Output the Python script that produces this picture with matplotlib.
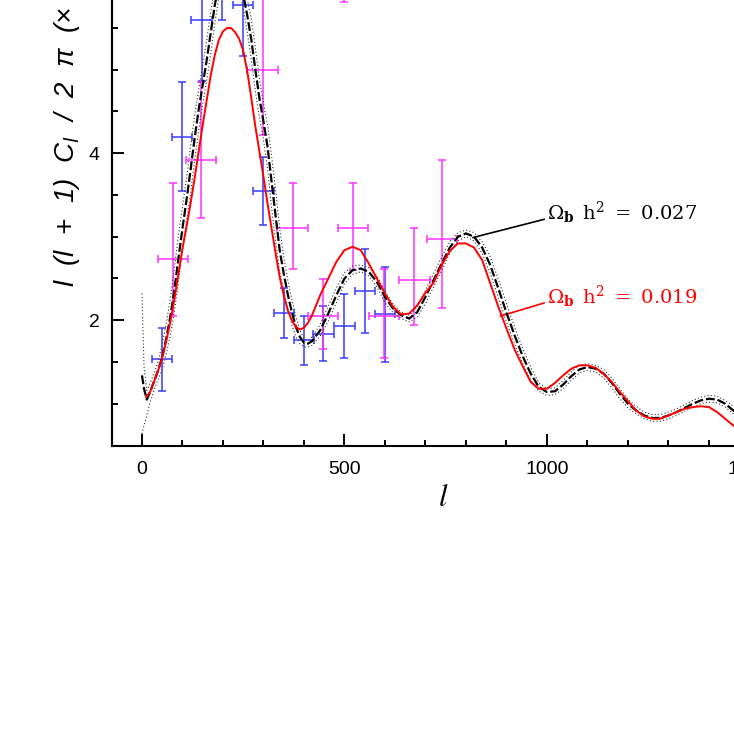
import matplotlib
matplotlib.use("Agg")
import matplotlib.pyplot as plt
from matplotlib.ticker import MultipleLocator

# ---------------- data ----------------
# theory curve, Omega_b h^2 = 0.027 (black dashed)
l_black = [0, 5, 12, 20, 30, 40, 50, 60, 70, 80, 90, 100, 110, 120, 130, 140, 150,
           160, 170, 180, 190, 200, 210, 220, 230, 240, 250, 260, 270, 280, 290, 300,
           310, 320, 330, 340, 350, 360, 370, 380, 390, 400, 410, 420, 440, 460, 480,
           500, 520, 540, 560, 580, 600, 620, 640, 660, 680, 700, 720, 740, 760, 780,
           800, 820, 840, 860, 880, 900, 920, 940, 960, 980, 1000, 1020, 1040, 1060,
           1080, 1100, 1120, 1140, 1160, 1180, 1200, 1220, 1240, 1260, 1280, 1300,
           1320, 1340, 1360, 1380, 1400, 1420, 1440, 1460, 1480, 1500]
cl_black = [1.34, 1.18, 1.05, 1.14, 1.27, 1.40, 1.56, 1.78, 2.04, 2.36, 2.74, 3.10, 3.44,
            3.80, 4.18, 4.52, 4.82, 5.12, 5.45, 5.78, 6.02, 6.18, 6.27, 6.28, 6.20, 6.06,
            5.90, 5.65, 5.36, 5.00, 4.66, 4.38, 4.08, 3.66, 3.25, 2.84, 2.56, 2.31, 2.10,
            1.92, 1.80, 1.73, 1.72, 1.75, 1.88, 2.08, 2.30, 2.50, 2.60, 2.62, 2.58, 2.46,
            2.28, 2.14, 2.06, 2.02, 2.10, 2.28, 2.48, 2.68, 2.87, 3.00, 3.04, 3.00, 2.87,
            2.66, 2.38, 2.09, 1.82, 1.57, 1.36, 1.20, 1.14, 1.15, 1.23, 1.33, 1.41, 1.44,
            1.42, 1.36, 1.25, 1.12, 1.00, 0.92, 0.86, 0.83, 0.83, 0.86, 0.90, 0.95, 1.00,
            1.04, 1.06, 1.05, 1.00, 0.92, 0.84, 0.76]
# dotted band around the black curve
cl_band_hi = [2.32, 1.45, 1.16, 1.24, 1.37, 1.51, 1.71, 1.96, 2.26, 2.62, 3.02, 3.36, 3.70,
              4.08, 4.45, 4.76, 5.05, 5.36, 5.70, 6.00, 6.17, 6.28, 6.32, 6.32, 6.29, 6.18,
              6.06, 5.85, 5.60, 5.26, 4.89, 4.60, 4.34, 3.97, 3.56, 3.10, 2.76, 2.48, 2.25,
              2.04, 1.88, 1.78, 1.76, 1.80, 1.95, 2.17, 2.39, 2.57, 2.65, 2.66, 2.63, 2.53,
              2.35, 2.19, 2.10, 2.06, 2.16, 2.36, 2.56, 2.76, 2.94, 3.05, 3.08, 3.05, 2.94,
              2.76, 2.49, 2.20, 1.92, 1.66, 1.44, 1.25, 1.18, 1.19, 1.28, 1.38, 1.46, 1.48,
              1.46, 1.41, 1.31, 1.18, 1.05, 0.97, 0.90, 0.87, 0.87, 0.90, 0.94, 0.99, 1.04,
              1.08, 1.10, 1.09, 1.04, 0.97, 0.89, 0.81]
cl_band_lo = [0.64, 0.74, 0.86, 1.02, 1.17, 1.29, 1.41, 1.60, 1.82, 2.10, 2.46, 2.84, 3.18,
              3.52, 3.91, 4.28, 4.59, 4.88, 5.20, 5.56, 5.87, 6.08, 6.22, 6.24, 6.11, 5.94,
              5.74, 5.45, 5.12, 4.74, 4.43, 4.16, 3.82, 3.35, 2.94, 2.58, 2.36, 2.14, 1.95,
              1.80, 1.72, 1.68, 1.68, 1.70, 1.81, 1.99, 2.21, 2.44, 2.55, 2.58, 2.53, 2.40,
              2.21, 2.09, 2.02, 1.98, 2.04, 2.20, 2.40, 2.60, 2.80, 2.95, 3.00, 2.95, 2.80,
              2.56, 2.27, 1.98, 1.72, 1.48, 1.28, 1.15, 1.10, 1.11, 1.18, 1.28, 1.37, 1.40,
              1.38, 1.31, 1.19, 1.06, 0.95, 0.88, 0.82, 0.79, 0.79, 0.82, 0.86, 0.91, 0.96,
              1.00, 1.02, 1.01, 0.96, 0.88, 0.80, 0.72]

# theory curve, Omega_b h^2 = 0.019 (red)
l_red = [10, 20, 30, 40, 50, 60, 70, 80, 90, 100, 110, 120, 130, 140, 150, 160, 170, 180,
         190, 200, 210, 220, 230, 240, 250, 260, 270, 280, 290, 300, 310, 320, 330, 340,
         350, 360, 370, 380, 390, 400, 410, 420, 440, 460, 480, 500, 520, 540, 560, 580,
         600, 620, 640, 660, 680, 700, 720, 740, 760, 780, 800, 820, 840, 860, 880, 900,
         920, 940, 960, 980, 1000, 1020, 1040, 1060, 1080, 1100, 1120, 1140, 1160, 1180,
         1200, 1220, 1240, 1260, 1280, 1300, 1320, 1340, 1360, 1380, 1400, 1420, 1440,
         1460, 1480, 1500]
cl_red = [1.08, 1.14, 1.27, 1.40, 1.55, 1.75, 1.98, 2.25, 2.55, 2.86, 3.12, 3.40, 3.70,
          4.02, 4.34, 4.64, 4.94, 5.18, 5.36, 5.46, 5.50, 5.50, 5.45, 5.37, 5.23, 4.98,
          4.66, 4.32, 4.02, 3.72, 3.40, 3.10, 2.80, 2.52, 2.30, 2.12, 2.00, 1.92, 1.89,
          1.91, 1.97, 2.06, 2.30, 2.50, 2.70, 2.84, 2.88, 2.84, 2.68, 2.50, 2.32, 2.16,
          2.07, 2.08, 2.18, 2.33, 2.45, 2.66, 2.83, 2.92, 2.92, 2.87, 2.72, 2.44, 2.16,
          1.90, 1.65, 1.45, 1.26, 1.18, 1.18, 1.25, 1.34, 1.42, 1.46, 1.46, 1.43, 1.36,
          1.26, 1.14, 1.03, 0.92, 0.85, 0.82, 0.82, 0.86, 0.90, 0.94, 0.96, 0.97, 0.96,
          0.90, 0.82, 0.74, 0.67, 0.60]

# data set 1 (blue)
l_blue = [50, 98, 147, 198, 250, 300, 351, 400, 448, 500, 551, 600]
cl_blue = [1.53, 4.20, 5.59, 6.29, 5.78, 3.55, 2.09, 1.76, 1.84, 1.93, 2.35, 2.07]
err_blue = [0.38, 0.65, 0.72, 0.70, 0.61, 0.41, 0.30, 0.29, 0.33, 0.385, 0.50, 0.57]
lbin_blue = [25, 25, 25, 25, 25, 25, 25, 25, 25, 25, 25, 25]

# data set 2 (magenta)
l_mag = [76, 146, 298, 372, 446, 500, 521, 598, 672, 742]
cl_mag = [2.73, 3.92, 5.00, 3.10, 2.05, 6.50, 3.10, 2.05, 2.485, 2.97]
err_mag_lo = [0.68, 0.69, 0.78, 0.49, 0.40, 0.69, 0.50, 0.50, 0.545, 0.82]
err_mag_hi = [0.91, 0.93, 1.00, 0.54, 0.44, 0.80, 0.54, 0.56, 0.615, 0.95]
lbin_mag = [37, 37, 38, 38, 37, 37, 38, 37, 38, 37]

x_ticks = [0, 500, 1000, 1500]
x_tick_labels = ["0", "500", "1000", "1500"]
y_ticks = [2, 4]
y_tick_labels = ["2", "4"]

label_hi = r"$\Omega_{\mathbf{b}}\ \,\mathrm{h}^{2}\ =\ 0.027$"
label_lo = r"$\Omega_{\mathbf{b}}\ \,\mathrm{h}^{2}\ =\ 0.019$"
x_label = r"$l$"
y_label = "l  (l  +  1)  C$_l$  /  2  π  (×  10$^{10}$)"

# ---------------- figure ----------------
W, H = 734, 731
fig = plt.figure(figsize=(W / 100, H / 100), dpi=100)

xmin, xmax = -74, 1600
ymin, ymax = 0.5, 7.0
px_per_l = 0.405
px_per_y = 83.5
ax = fig.add_axes([112 / W, 285.5 / H, (xmax - xmin) * px_per_l / W,
                   (ymax - ymin) * px_per_y / H])
ax.set_xlim(xmin, xmax)
ax.set_ylim(ymin, ymax)

blue = "#3a3aff"
magenta = "#ff30ff"

ax.errorbar(l_blue, cl_blue, yerr=err_blue, xerr=lbin_blue, fmt="none",
            ecolor=blue, elinewidth=1.1, capsize=3, capthick=1.1, zorder=2)
ax.errorbar(l_mag, cl_mag, yerr=[err_mag_lo, err_mag_hi], xerr=lbin_mag, fmt="none",
            ecolor=magenta, elinewidth=1.1, capsize=3, capthick=1.1, zorder=2)

ax.plot(l_black, cl_band_hi, color="#333333", lw=0.8, ls=(0, (1, 2)), zorder=3)
ax.plot(l_black, cl_band_lo, color="#333333", lw=0.8, ls=(0, (1, 2)), zorder=3)
ax.plot(l_black, cl_black, color="black", lw=1.6, dashes=(4.0, 1.3), zorder=4)
ax.plot(l_red, cl_red, color="#ff0000", lw=1.4, zorder=5)

# annotations
ax.annotate(label_hi, xy=(817, 2.99), xytext=(1000, 3.28), textcoords="data",
            ha="left", va="center", fontsize=14, color="black",
            math_fontfamily="dejavuserif",
            arrowprops=dict(arrowstyle="-", color="black", lw=1.2,
                            relpos=(0, 0.3), shrinkA=2, shrinkB=0, patchA=None))
ax.annotate(label_lo, xy=(885, 2.05), xytext=(1000, 2.28), textcoords="data",
            ha="left", va="center", fontsize=14, color="#ff0000",
            math_fontfamily="dejavuserif",
            arrowprops=dict(arrowstyle="-", color="#ff0000", lw=1.2,
                            relpos=(0, 0.3), shrinkA=2, shrinkB=0, patchA=None))

# axes styling
for s in ["top", "right"]:
    ax.spines[s].set_visible(False)
for s in ["left", "bottom"]:
    ax.spines[s].set_linewidth(1.5)
ax.set_xticks(x_ticks)
ax.set_xticklabels(x_tick_labels)
ax.set_yticks(y_ticks)
ax.set_yticklabels(y_tick_labels)
ax.xaxis.set_minor_locator(MultipleLocator(100))
ax.yaxis.set_minor_locator(MultipleLocator(0.5))
ax.tick_params(which="major", direction="in", length=8.6, width=1.4,
               labelsize=14, top=False, right=False)
ax.tick_params(which="minor", direction="in", length=4.5, width=1.4,
               top=False, right=False)
ax.tick_params(axis="x", which="major", pad=11)
ax.tick_params(axis="y", which="major", pad=9)
for lab in ax.get_xticklabels() + ax.get_yticklabels():
    lab.set_fontfamily("Liberation Sans")

fig.text(443 / W, 1 - 497 / H, x_label, ha="center", va="center", fontsize=22,
         math_fontfamily="stix")
fig.text(65 / W, 1 - 287 / H, y_label, rotation=90, ha="center", va="bottom",
         fontsize=20, fontstyle="italic", fontfamily="Liberation Sans",
         math_fontfamily="dejavusans")

fig.savefig("out.png", dpi=100)
